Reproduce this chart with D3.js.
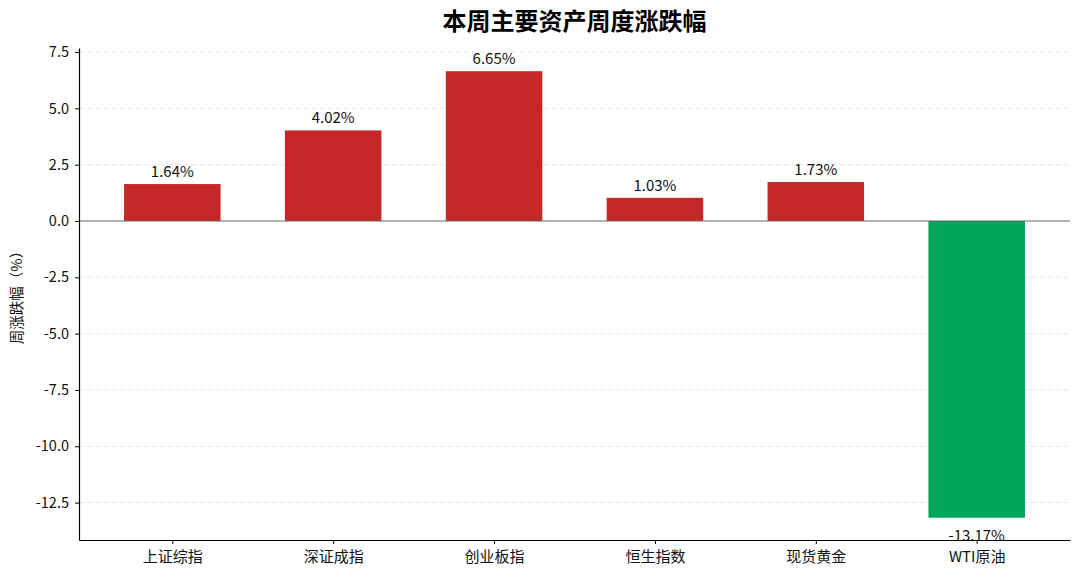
<!DOCTYPE html>
<html>
<head>
<meta charset="utf-8">
<script src="https://cdn.jsdelivr.net/npm/d3@7"></script>
<style>
  body { margin: 0; background: #fff; }
  text { font-family: "Noto Sans CJK SC", "Noto Sans", sans-serif; }
</style>
</head>
<body>
<script>
const width = 1080;
const height = 578;
const margin = { l: 79, r: 10, t: 48, b: 38 };

const categories = ["上证综指", "深证成指", "创业板指", "恒生指数", "现货黄金", "WTI原油"];
const values = [1.64, 4.02, 6.65, 1.03, 1.73, -13.17];
const yTicks = [7.5, 5.0, 2.5, 0.0, -2.5, -5.0, -7.5, -10.0, -12.5];
const title = "本周主要资产周度涨跌幅";
const yLabel = "周涨跌幅（%）";

const colors = { up: "#c62828", down: "#00a65a" };
const fmtTick = (d) => d.toFixed(1);

const svg = d3.select("body")
  .append("svg")
  .attr("width", width)
  .attr("height", height);

const x = d3.scaleLinear()
  .domain([-0.58, categories.length - 1 + 0.58])
  .range([margin.l, width - margin.r]);

const y = d3.scaleLinear()
  .domain([-14.16, 7.68])
  .range([height - margin.b, margin.t]);

const barW = x(0.6) - x(0);

// grid
svg.append("g")
  .selectAll("line")
  .data(yTicks.filter(d => d !== 0))
  .enter()
  .append("line")
  .attr("x1", margin.l)
  .attr("x2", width - margin.r)
  .attr("y1", d => y(d))
  .attr("y2", d => y(d))
  .style("stroke", "#e6e6e6")
  .style("stroke-dasharray", "5,3")
  .style("stroke-width", 1);

// bars
svg.append("g")
  .selectAll("rect")
  .data(values)
  .enter()
  .append("rect")
  .attr("x", (d, i) => x(i) - barW / 2)
  .attr("width", barW)
  .attr("y", d => y(Math.max(0, d)))
  .attr("height", d => Math.abs(y(d) - y(0)))
  .style("fill", d => (d >= 0 ? colors.up : colors.down));

// zero line
svg.append("line")
  .attr("x1", margin.l)
  .attr("x2", width - margin.r)
  .attr("y1", y(0))
  .attr("y2", y(0))
  .style("stroke", "#666")
  .style("stroke-width", 1.2);

// value labels
svg.append("g")
  .selectAll("text")
  .data(values)
  .enter()
  .append("text")
  .attr("x", (d, i) => x(i))
  .attr("y", d => (d >= 0 ? y(d) - 7 : y(d) + 23))
  .attr("text-anchor", "middle")
  .style("font-size", "15px")
  .style("fill", "#111")
  .text(d => d.toFixed(2) + "%");

// y axis
const yAxis = svg.append("g")
  .attr("transform", `translate(${margin.l},0)`)
  .call(d3.axisLeft(y).tickValues(yTicks).tickFormat(fmtTick).tickSize(4).tickSizeOuter(0));
yAxis.select(".domain").style("stroke", "#000").style("stroke-width", 1.2);
yAxis.selectAll(".tick line").style("stroke", "#000");
yAxis.selectAll(".tick text")
  .attr("x", -10)
  .style("font-size", "14.5px")
  .style("fill", "#111");

// x axis
const xAxis = svg.append("g")
  .attr("transform", `translate(0,${height - margin.b})`)
  .call(d3.axisBottom(x).tickValues(d3.range(categories.length)).tickFormat(i => categories[i]).tickSize(4).tickSizeOuter(0));
xAxis.select(".domain").style("stroke", "#000").style("stroke-width", 1.2);
xAxis.selectAll(".tick line").style("stroke", "#000");
xAxis.selectAll(".tick text")
  .attr("y", 11)
  .style("font-size", "15px")
  .style("fill", "#111");

// title
svg.append("text")
  .attr("x", (margin.l + width - margin.r) / 2)
  .attr("y", 30)
  .attr("text-anchor", "middle")
  .style("font-size", "24px")
  .style("font-weight", "bold")
  .style("fill", "#000")
  .text(title);

// y label
svg.append("text")
  .attr("transform", `translate(22,${(margin.t + height - margin.b) / 2}) rotate(-90)`)
  .attr("text-anchor", "middle")
  .style("font-size", "14.5px")
  .style("fill", "#111")
  .text(yLabel);
</script>
</body>
</html>
